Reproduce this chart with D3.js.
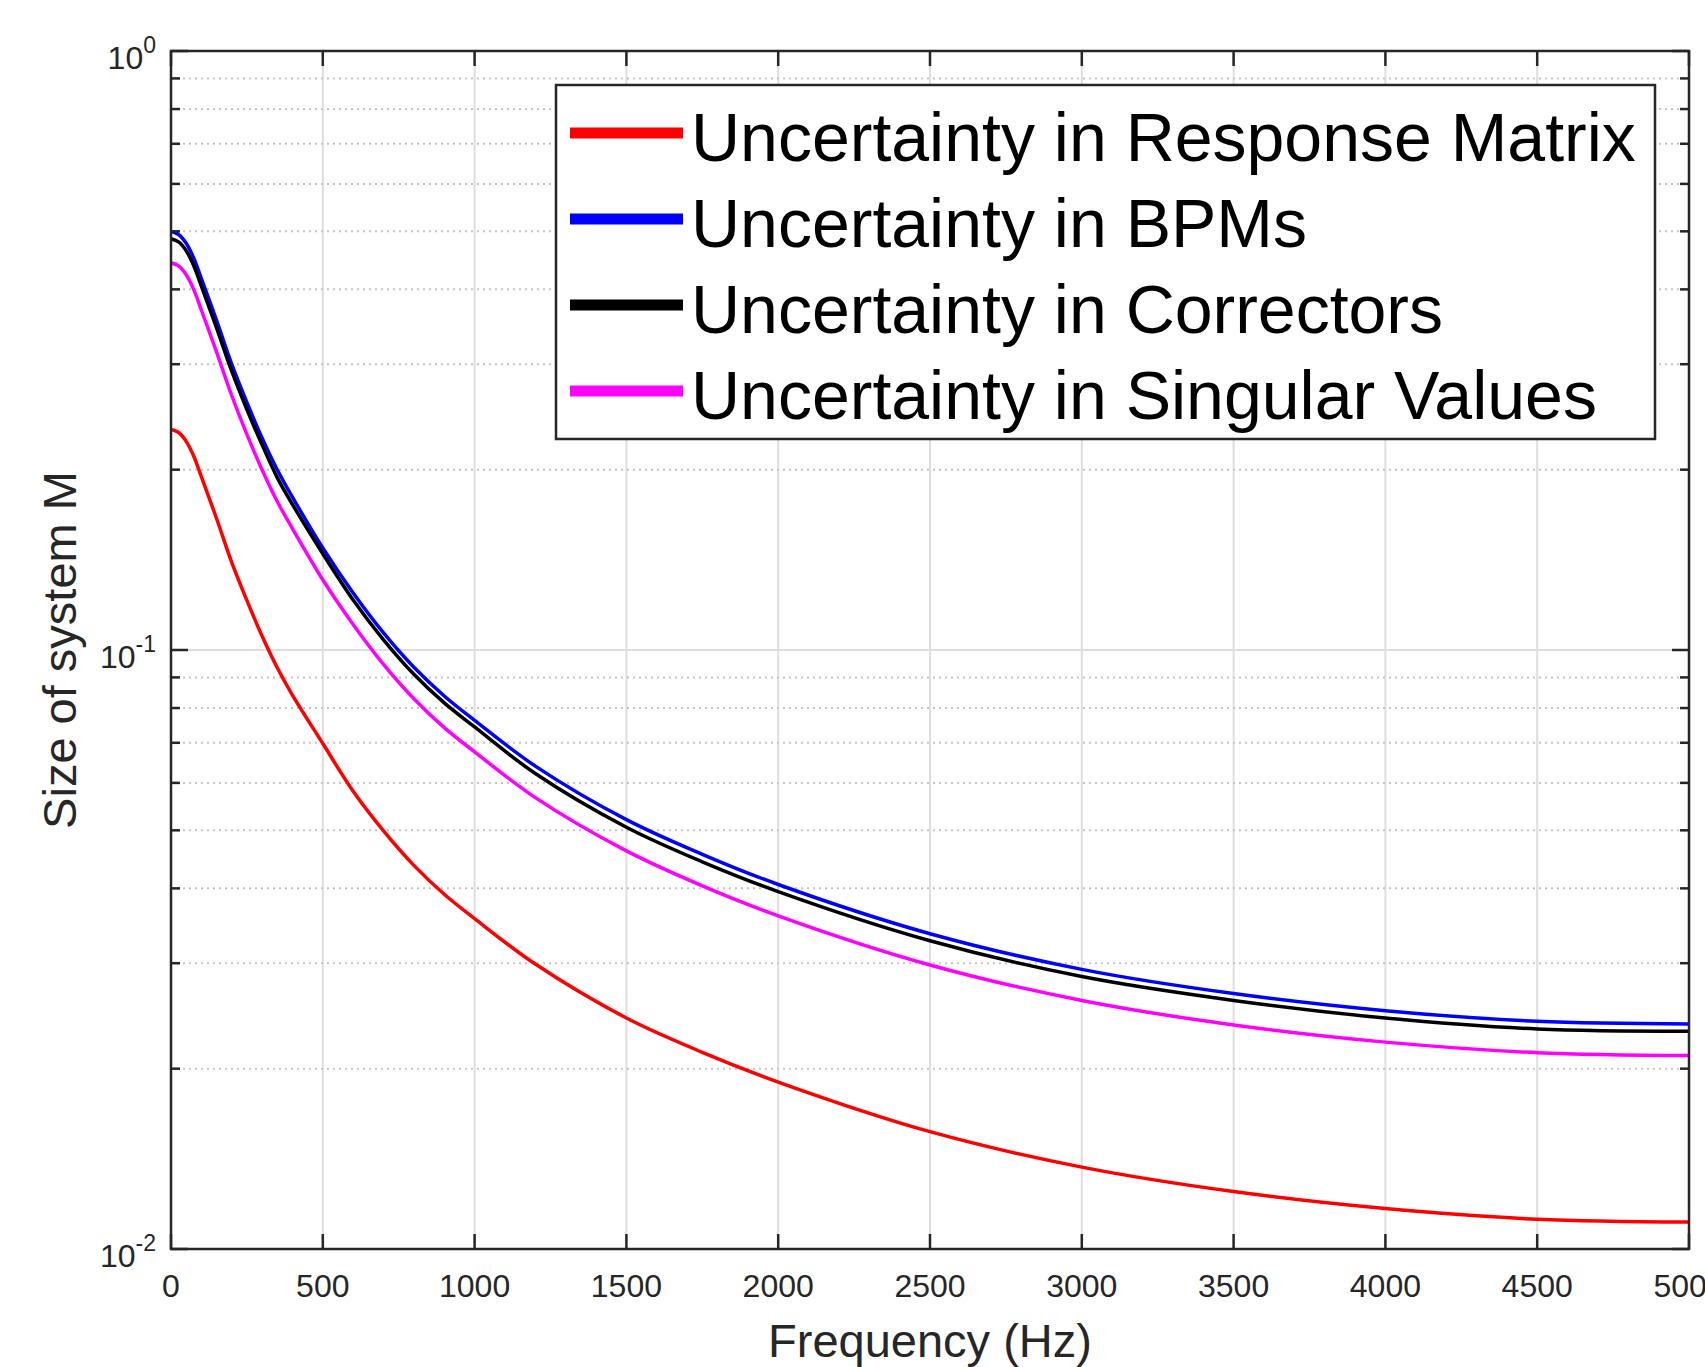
<!DOCTYPE html>
<html>
<head>
<meta charset="utf-8">
<script src="https://cdn.jsdelivr.net/npm/d3@7"></script>
<style>
  body { margin: 0; background: #fff; }
  svg text { font-family: "Liberation Sans", Arial, Helvetica, sans-serif; }
</style>
</head>
<body>
<div id="chart"></div>
<script>
// frequency points (Hz)
var freq = [0, 25, 50, 75, 100, 150, 200, 250, 300, 350, 400, 500, 600, 700, 800, 900, 1000,
            1200, 1500, 1750, 2000, 2500, 3000, 3500, 4000, 4500, 5000];

// series values (log scale, read by eye)
var respMatrix = [0.2335, 0.2307, 0.2230, 0.2106, 0.1947, 0.1658, 0.1401, 0.1210, 0.1055, 0.0934,
                  0.0841, 0.0698, 0.0581, 0.0499, 0.0437, 0.0391, 0.0356, 0.0299, 0.0243, 0.0213,
                  0.0190, 0.0157, 0.0137, 0.01247, 0.01168, 0.01121, 0.01109];
var bpms = [0.500, 0.494, 0.4775, 0.451, 0.417, 0.355, 0.300, 0.259, 0.226, 0.200,
            0.180, 0.148, 0.1245, 0.1068, 0.0936, 0.0838, 0.0763, 0.0640, 0.0521, 0.0456,
            0.0406, 0.0336, 0.0293, 0.0267, 0.0250, 0.0240, 0.02375];
var correctors = [0.486, 0.480, 0.464, 0.438, 0.405, 0.345, 0.292, 0.252, 0.220, 0.194,
                  0.175, 0.1448, 0.1212, 0.1040, 0.0911, 0.0816, 0.0744, 0.0622, 0.0506, 0.0443,
                  0.0395, 0.0327, 0.0285, 0.0260, 0.0243, 0.0233, 0.0231];
var singularValues = [0.443, 0.4377, 0.423, 0.3996, 0.3695, 0.3145, 0.266, 0.229, 0.200, 0.177,
                      0.1595, 0.131, 0.1103, 0.0946, 0.0829, 0.0742, 0.0676, 0.0567, 0.0462, 0.0404,
                      0.0360, 0.0298, 0.0260, 0.02366, 0.02215, 0.02127, 0.02104];

var seriesNames = ["Uncertainty in Response Matrix", "Uncertainty in BPMs",
                   "Uncertainty in Correctors", "Uncertainty in Singular Values"];
var seriesColors = ["#ff0000", "#0000ff", "#000000", "#ff00ff"];
var seriesValues = [respMatrix, bpms, correctors, singularValues];

// tick labels
var xTicks = [0, 500, 1000, 1500, 2000, 2500, 3000, 3500, 4000, 4500, 5000];
var yTicks = [1, 0.1, 0.01];
var yTickExp = ["0", "-1", "-2"];

// set the dimensions and margins of the graph
var margin = {top: 51, right: 16, bottom: 118, left: 171},
    width = 1705 - margin.left - margin.right,
    height = 1367 - margin.top - margin.bottom;

var axisColor = "#262626";

// set the ranges
var x = d3.scaleLinear().domain([0, 5000]).range([0, width]);
var y = d3.scaleLog().domain([0.01, 1]).range([height, 0]);

var svg = d3.select("#chart").append("svg")
    .attr("width", 1705)
    .attr("height", 1367)
  .append("g")
    .attr("transform", "translate(" + margin.left + "," + margin.top + ")");

// minor y values 2..9 per decade
var yMinor = [];
[0.01, 0.1].forEach(function(base) {
  for (var k = 2; k <= 9; k++) yMinor.push(base * k);
});

// grid: x major (solid), y major (solid), y minor (dotted)
svg.selectAll(".xgrid")
    .data(xTicks.slice(1, -1))
  .enter().append("line")
    .attr("x1", function(d) { return x(d); })
    .attr("x2", function(d) { return x(d); })
    .attr("y1", 0).attr("y2", height)
    .attr("stroke", "#dedede").attr("stroke-width", 2);

svg.append("line")
    .attr("x1", 0).attr("x2", width)
    .attr("y1", y(0.1)).attr("y2", y(0.1))
    .attr("stroke", "#dedede").attr("stroke-width", 2);

svg.selectAll(".ygridminor")
    .data(yMinor)
  .enter().append("line")
    .attr("x1", 0).attr("x2", width)
    .attr("y1", function(d) { return y(d); })
    .attr("y2", function(d) { return y(d); })
    .attr("stroke", "#c4c4c4").attr("stroke-width", 2)
    .attr("stroke-dasharray", "2,4");

// the curves
var valueline = d3.line()
    .x(function(d) { return x(d[0]); })
    .y(function(d) { return y(d[1]); })
    .curve(d3.curveCatmullRom.alpha(0.5));

seriesValues.forEach(function(vals, i) {
  svg.append("path")
      .attr("d", valueline(freq.map(function(f, j) { return [f, vals[j]]; })))
      .attr("fill", "none")
      .attr("stroke", seriesColors[i])
      .attr("stroke-width", 3.5);
});

// ticks (inward) on all four sides
xTicks.forEach(function(t) {
  svg.append("line").attr("x1", x(t)).attr("x2", x(t)).attr("y1", height).attr("y2", height - 15)
      .attr("stroke", axisColor).attr("stroke-width", 2.5);
  svg.append("line").attr("x1", x(t)).attr("x2", x(t)).attr("y1", 0).attr("y2", 15)
      .attr("stroke", axisColor).attr("stroke-width", 2.5);
});
yTicks.forEach(function(t) {
  svg.append("line").attr("x1", 0).attr("x2", 17).attr("y1", y(t)).attr("y2", y(t))
      .attr("stroke", axisColor).attr("stroke-width", 2.5);
  svg.append("line").attr("x1", width).attr("x2", width - 17).attr("y1", y(t)).attr("y2", y(t))
      .attr("stroke", axisColor).attr("stroke-width", 2.5);
});
yMinor.forEach(function(t) {
  svg.append("line").attr("x1", 0).attr("x2", 9).attr("y1", y(t)).attr("y2", y(t))
      .attr("stroke", axisColor).attr("stroke-width", 2.5);
  svg.append("line").attr("x1", width).attr("x2", width - 9).attr("y1", y(t)).attr("y2", y(t))
      .attr("stroke", axisColor).attr("stroke-width", 2.5);
});

// axes box
svg.append("rect")
    .attr("width", width).attr("height", height)
    .attr("fill", "none")
    .attr("stroke", axisColor).attr("stroke-width", 2.5);

// x tick labels
svg.selectAll(".xlab")
    .data(xTicks)
  .enter().append("text")
    .attr("x", function(d) { return x(d); })
    .attr("y", height + 48)
    .attr("text-anchor", "middle")
    .attr("font-size", 32)
    .attr("fill", axisColor)
    .text(function(d) { return d; });

// y tick labels 10^n
yTicks.forEach(function(t, i) {
  var lab = svg.append("text")
      .attr("x", -15)
      .attr("y", y(t) + 18)
      .attr("text-anchor", "end")
      .attr("fill", axisColor);
  lab.append("tspan").attr("font-size", 32).text("10");
  lab.append("tspan").attr("font-size", 23).attr("dy", -16).text(yTickExp[i]);
});

// axis labels
svg.append("text")
    .attr("x", width / 2)
    .attr("y", height + 108)
    .attr("text-anchor", "middle")
    .attr("font-size", 47)
    .attr("fill", axisColor)
    .text("Frequency (Hz)");

svg.append("text")
    .attr("transform", "translate(" + (76 - margin.left) + "," + (height / 2) + ") rotate(-90)")
    .attr("text-anchor", "middle")
    .attr("font-size", 47)
    .attr("fill", axisColor)
    .text("Size of system M");

// legend
var legend = svg.append("g")
    .attr("transform", "translate(" + (556 - margin.left) + "," + (85 - margin.top) + ")");

legend.append("rect")
    .attr("width", 1099).attr("height", 354)
    .attr("fill", "#fff")
    .attr("stroke", axisColor).attr("stroke-width", 2.5);

seriesNames.forEach(function(name, i) {
  var ly = 48 + i * 86;
  legend.append("line")
      .attr("x1", 14).attr("x2", 127)
      .attr("y1", ly).attr("y2", ly)
      .attr("stroke", seriesColors[i]).attr("stroke-width", 11);
  legend.append("text")
      .attr("x", 135)
      .attr("y", ly + 28)
      .attr("font-size", 68)
      .attr("fill", "#000")
      .text(name);
});
</script>
</body>
</html>
